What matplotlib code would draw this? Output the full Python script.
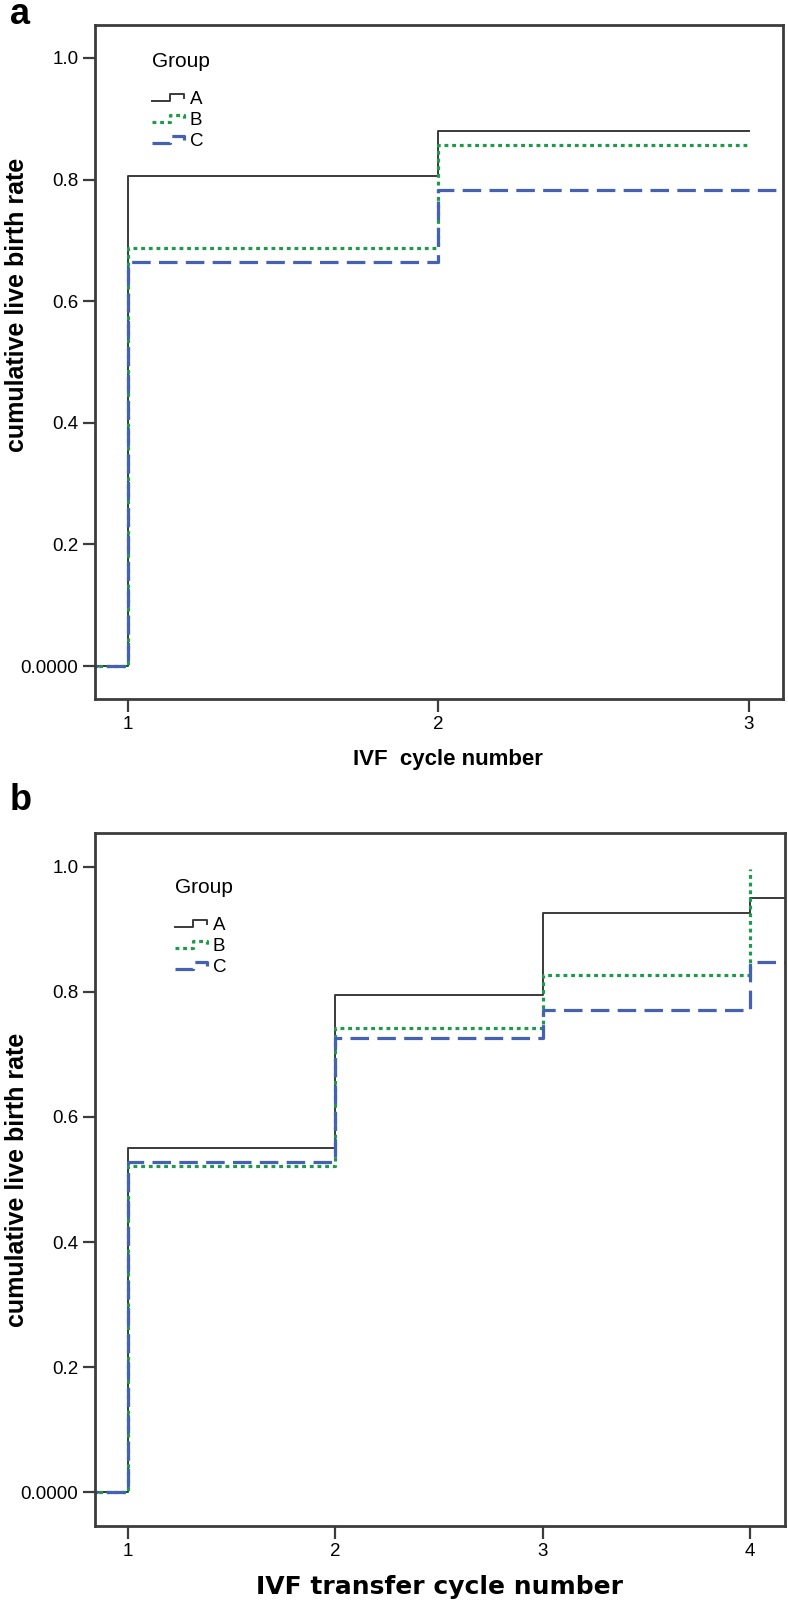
import numpy as np
import matplotlib
matplotlib.use("Agg")
import matplotlib.pyplot as plt
from matplotlib.legend_handler import HandlerBase
from matplotlib.lines import Line2D

plt.rcParams["font.family"] = ["Liberation Sans", "DejaVu Sans"]

# panel a: cumulative live birth rate by IVF cycle number
a_x = {"A": [0, 1, 2, 3], "B": [0, 1, 2, 3], "C": [0, 1, 2, 3.5]}
a_y = {
    "A": [0.0, 0.805, 0.880, 0.880],
    "B": [0.0, 0.687, 0.856, 0.856],
    "C": [0.0, 0.664, 0.783, 0.783],
}
a_xticks = [1, 2, 3]

# panel b: cumulative live birth rate by IVF transfer cycle number
b_x = {"A": [0, 1, 2, 3, 4, 4.5], "B": [0, 1, 2, 3, 4], "C": [0, 1, 2, 3, 4, 4.5]}
b_y = {
    "A": [0.0, 0.550, 0.795, 0.926, 0.950, 0.950],
    "B": [0.0, 0.522, 0.742, 0.827, 0.997],
    "C": [0.0, 0.528, 0.726, 0.771, 0.848, 0.848],
}
b_xticks = [1, 2, 3, 4]

groups = ["A", "B", "C"]
yticks = [0.0, 0.2, 0.4, 0.6, 0.8, 1.0]
ytick_labels = ["0.0000", "0.2", "0.4", "0.6", "0.8", "1.0"]

styles = {
    "A": dict(color="#3a3a3a", lw=1.4, ls="-"),
    "B": dict(color="#1f9a4c", lw=2.3, ls=(0, (1.2, 1.2)), dash_capstyle="butt"),
    "C": dict(color="#4561b3", lw=2.3, ls=(0, (5.8, 2.6)), dash_capstyle="butt"),
}

SPINE = "#3c3c3c"
W, H = 788, 1604


class StepHandler(HandlerBase):
    def create_artists(self, legend, orig_handle, xdescent, ydescent,
                       width, height, fontsize, trans):
        xs = np.array([0.0, 0.5, 0.5, 0.9, 0.9]) * width - xdescent
        ys = np.array([0.2, 0.2, 0.75, 0.75, 0.45]) * height - ydescent
        line = Line2D(xs, ys)
        line.update_from(orig_handle)
        line.set_transform(trans)
        return [line]


def draw_panel(ax, xs, ys, xticks, xlim, xlabel, xlabel_kw, legend_anchor,
               ax_w, ylabel_pos):
    handles = []
    for g in groups:
        h, = ax.step(xs[g], ys[g], where="post", label=g, **styles[g])
        handles.append(h)

    ax.set_xlim(*xlim)
    ax.set_ylim(-0.054, 1.054)
    ax.set_xticks(xticks)
    ax.set_yticks(yticks)
    ax.set_yticklabels(ytick_labels)
    ax.tick_params(axis="both", direction="out", length=9, width=1.6,
                   color=SPINE, labelsize=13.5, pad=3)
    for sp in ax.spines.values():
        sp.set_color(SPINE)
        sp.set_linewidth(2.0)

    ax.set_ylabel("cumulative live birth rate", fontsize=18, fontweight="bold",
                  va="center")
    ax.yaxis.set_label_coords((17 - 95) / ax_w, ylabel_pos)
    ax.set_xlabel(xlabel, **xlabel_kw)

    leg = ax.legend(handles=handles, labels=groups, title="Group",
                    loc="upper left", bbox_to_anchor=legend_anchor,
                    frameon=False, fontsize=13.5, title_fontsize=15,
                    handler_map={Line2D: StepHandler()},
                    handlelength=1.9, handletextpad=0.1, labelspacing=0.22,
                    borderpad=0, borderaxespad=0, alignment="left")
    leg._legend_box.sep = 14
    return leg


fig = plt.figure(figsize=(7.88, 16.04), dpi=100)
ax_a = fig.add_axes([95 / W, (H - 699) / H, 688 / W, 674 / H])
ax_b = fig.add_axes([95 / W, (H - 1526) / H, 690 / W, 693 / H])

draw_panel(ax_a, a_x, a_y, a_xticks, (0.894, 3.11), "IVF  cycle number",
           dict(fontsize=16, fontweight="bold", va="center"), (0.083, 0.96), 688,
           0.585)
ax_a.xaxis.set_label_coords(0.513, (699 - 760) / 674)
draw_panel(ax_b, b_x, b_y, b_xticks, (0.84, 4.17), "IVF transfer cycle number",
           dict(fontsize=18, fontweight="bold", family=["DejaVu Sans"], labelpad=11),
           (0.116, 0.935), 690, 0.5)

fig.text(10 / W, 1 - 15 / H, "a", fontsize=26, fontweight="bold", va="center", ha="left")
fig.text(10 / W, 1 - 800 / H, "b", fontsize=26, fontweight="bold", va="center", ha="left")

fig.savefig("out.png", dpi=100)
